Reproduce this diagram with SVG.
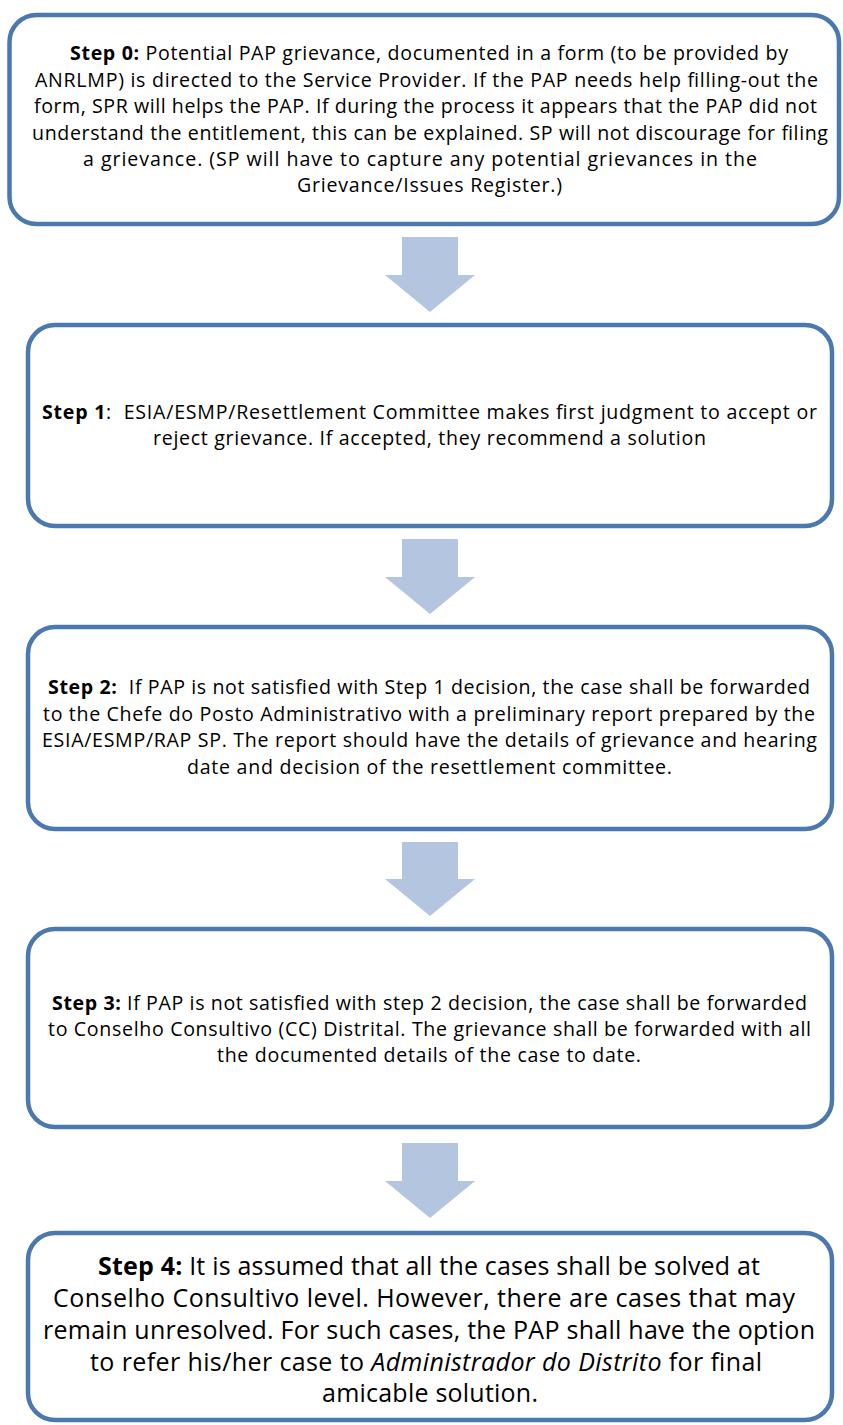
<svg xmlns="http://www.w3.org/2000/svg" width="843" height="1425" viewBox="0 0 843 1425">
<style>
.box{fill:#ffffff;stroke:#4A78AF;stroke-width:4.5}
.arr{fill:#B4C5E0;stroke:none}
.t{font-family:"Open Sans","Liberation Sans",sans-serif;font-size:19.6px;fill:#000;white-space:pre}
.t4{font-family:"Open Sans","Liberation Sans",sans-serif;font-size:25px;fill:#000;white-space:pre}
.b{font-weight:bold}
.i{font-style:italic}
</style>
<rect width="843" height="1425" fill="#ffffff"/>
<g id="connectors">
<polygon class="arr" points="402,237 458,237 458,275 475,275 430,312 385,275 402,275"/>
<polygon class="arr" points="402,539 458,539 458,577 475,577 430,614 385,577 402,577"/>
<polygon class="arr" points="402,842 458,842 458,879 475,879 430,916 385,879 402,879"/>
<polygon class="arr" points="402,1143 458,1143 458,1181 475,1181 430,1218 385,1181 402,1181"/>
</g>
<g id="step0">
<rect class="box" x="9.5" y="15" width="829.5" height="209" rx="27"/>
<text class="t" x="70" y="60" textLength="718" lengthAdjust="spacing"><tspan class="b">Step 0:</tspan> Potential PAP grievance, documented in a form (to be provided by</text>
<text class="t" x="35" y="86.5" textLength="783" lengthAdjust="spacing">ANRLMP) is directed to the Service Provider. If the PAP needs help filling-out the</text>
<text class="t" x="34" y="113" textLength="783" lengthAdjust="spacing">form, SPR will helps the PAP. If during the process it appears that the PAP did not</text>
<text class="t" x="32" y="140" textLength="796" lengthAdjust="spacing">understand the entitlement, this can be explained. SP will not discourage for filing</text>
<text class="t" x="83" y="166" textLength="674" lengthAdjust="spacing">a grievance. (SP will have to capture any potential grievances in the</text>
<text class="t" x="297" y="192" textLength="265" lengthAdjust="spacing">Grievance/Issues Register.)</text>
</g>
<g id="step1">
<rect class="box" x="28" y="325" width="804" height="201" rx="27"/>
<text class="t" x="42" y="418.5" textLength="775" lengthAdjust="spacing"><tspan class="b">Step 1</tspan>:  ESIA/ESMP/Resettlement Committee makes first judgment to accept or</text>
<text class="t" x="153" y="445" textLength="553" lengthAdjust="spacing">reject grievance. If accepted, they recommend a solution</text>
</g>
<g id="step2">
<rect class="box" x="28" y="627" width="804" height="202" rx="27"/>
<text class="t" x="48" y="694" textLength="762" lengthAdjust="spacing"><tspan class="b">Step 2:</tspan>  If PAP is not satisfied with Step 1 decision, the case shall be forwarded</text>
<text class="t" x="43" y="720.5" textLength="772" lengthAdjust="spacing">to the Chefe do Posto Administrativo with a preliminary report prepared by the</text>
<text class="t" x="42" y="747" textLength="775" lengthAdjust="spacing">ESIA/ESMP/RAP SP. The report should have the details of grievance and hearing</text>
<text class="t" x="187" y="773.5" textLength="485" lengthAdjust="spacing">date and decision of the resettlement committee.</text>
</g>
<g id="step3">
<rect class="box" x="28" y="929" width="804" height="198" rx="27"/>
<text class="t" x="52" y="1010" textLength="755" lengthAdjust="spacing"><tspan class="b">Step 3:</tspan> If PAP is not satisfied with step 2 decision, the case shall be forwarded</text>
<text class="t" x="48" y="1036" textLength="763" lengthAdjust="spacing">to Conselho Consultivo (CC) Distrital. The grievance shall be forwarded with all</text>
<text class="t" x="217" y="1062" textLength="424" lengthAdjust="spacing">the documented details of the case to date.</text>
</g>
<g id="step4">
<rect class="box" x="28" y="1233" width="804" height="187" rx="27"/>
<text class="t4" x="98" y="1275" textLength="662" lengthAdjust="spacing"><tspan class="b">Step 4:</tspan> It is assumed that all the cases shall be solved at</text>
<text class="t4" x="53" y="1307" textLength="742" lengthAdjust="spacing">Conselho Consultivo level. However, there are cases that may</text>
<text class="t4" x="43" y="1339" textLength="772" lengthAdjust="spacing">remain unresolved. For such cases, the PAP shall have the option</text>
<text class="t4" x="90" y="1371" textLength="672" lengthAdjust="spacing">to refer his/her case to <tspan class="i">Administrador do Distrito</tspan> for final</text>
<text class="t4" x="322" y="1402" textLength="216" lengthAdjust="spacing">amicable solution.</text>
</g>
</svg>
